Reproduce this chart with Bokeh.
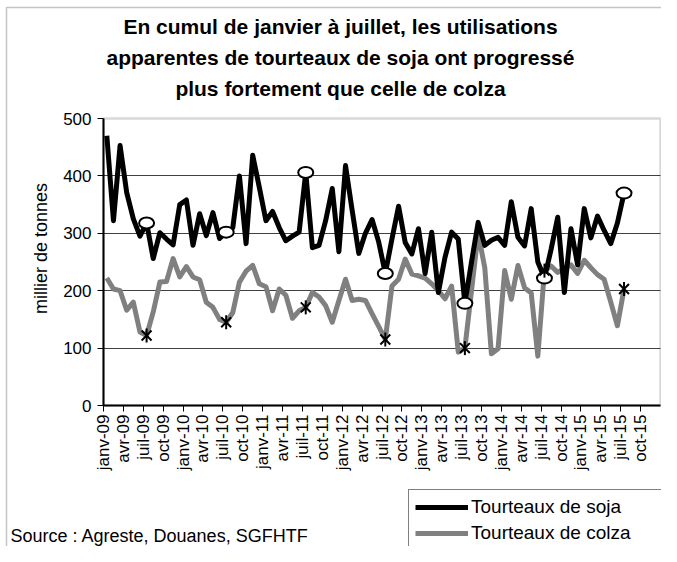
import math
from bokeh.plotting import figure
from bokeh.models import (FixedTicker, Label, Legend, LegendItem, ColumnDataSource,
                          Range1d, LinearAxis, Grid, BoxAnnotation)
from bokeh.embed import file_html
from bokeh.resources import INLINE

# ---------------- data ----------------
title_lines = [
    "En cumul de janvier à juillet, les utilisations",
    "apparentes de tourteaux de soja ont progressé",
    "plus fortement que celle de colza",
]
y_axis_title = "millier de tonnes"
source_text = "Source : Agreste, Douanes, SGFHTF"
series_names = ["Tourteaux de soja", "Tourteaux de colza"]

years = ["09", "10", "11", "12", "13", "14", "15"]
tick_months = ["janv", "avr", "juil", "oct"]
tick_labels = [f"{m}-{y}" for y in years for m in tick_months]  # janv-09 ... oct-15
n_slots = 84  # janv-09 .. déc-15 category slots
y_ticks = [0, 100, 200, 300, 400, 500]

# monthly values, janv-09 .. juil-15 (thousand tonnes)
soja = [470, 322, 453, 371, 325, 295, 318, 256, 301, 290, 280, 350,
        358, 279, 334, 296, 336, 291, 302, 310, 400, 282, 436, 380,
        322, 338, 310, 287, 295, 302, 406, 275, 279, 322, 378, 268,
        418, 340, 265, 300, 324, 285, 230, 290, 347, 284, 264, 308,
        230, 302, 197, 258, 302, 290, 178, 250, 319, 279, 288, 293,
        279, 355, 293, 278, 343, 250, 222, 272, 328, 197, 308, 245,
        343, 292, 330, 305, 282, 318, 370]
colza = [222, 203, 200, 166, 180, 128, 122, 163, 215, 216, 256, 224,
         242, 224, 219, 180, 171, 150, 145, 162, 215, 234, 244, 212,
         207, 165, 203, 192, 152, 165, 171, 197, 189, 174, 145, 183,
         220, 183, 185, 183, 160, 138, 115, 208, 220, 255, 229, 226,
         222, 212, 200, 186, 208, 93, 100, 200, 300, 240, 90, 99,
         235, 185, 244, 205, 196, 86, 235, 243, 232, 238, 245, 230,
         253, 240, 228, 220, 180, 139, 203]
july_index = [6, 18, 30, 42, 54, 66, 78]

# ---------------- layout (pixels) ----------------
W, H = 661, 546
PL, PR, PT, PB = 103, 660, 118, 405  # plot area in canvas pixels
y_max = y_ticks[-1]
sx = (PR - PL) / n_slots
sy = (PB - PT) / y_max
x_range = Range1d(-PL / sx, n_slots + (W - PR) / sx)
y_range = Range1d(-(H - PB) / sy, y_max + PT / sy)

p = figure(width=W, height=H, x_range=x_range, y_range=y_range,
           output_backend="svg", toolbar_location=None,
           x_axis_location=None, y_axis_location=None,
           min_border=0, min_border_left=0, min_border_right=0,
           min_border_top=0, min_border_bottom=0)
p.background_fill_color = "white"
p.border_fill_color = "white"
p.outline_line_color = None
p.grid.visible = False

# outer chart border (left / top visible), placed via the pixel layout
p.add_layout(BoxAnnotation(left=(6 - PL) / sx, right=n_slots + (W + 30 - PR) / sx,
                           top=y_max + (PT - 7) / sy, bottom=-(H + 30 - PB) / sy,
                           fill_alpha=0, line_color="#404040", line_width=1.5,
                           level="underlay"))
# plot-area border
p.add_layout(BoxAnnotation(left=0, right=n_slots, bottom=0, top=y_max,
                           fill_alpha=0, line_color="#808080", line_width=2.5,
                           level="underlay"))

# horizontal gridlines
p.add_layout(Grid(dimension=1, ticker=FixedTicker(ticks=y_ticks[1:-1]),
                  cross_bounds=(0, n_slots), grid_line_color="#404040",
                  grid_line_width=1, level="underlay"))

xs = [i + 0.5 for i in range(len(soja))]  # category centres
src = ColumnDataSource(dict(x=xs, soja=soja, colza=colza))
jsrc = ColumnDataSource(dict(x=[xs[i] for i in july_index],
                             soja=[soja[i] for i in july_index],
                             colza=[colza[i] for i in july_index]))

r_colza = p.line("x", "colza", source=src, line_color="#808080", line_width=5,
                 line_join="round")
r_soja = p.line("x", "soja", source=src, line_color="black", line_width=5,
                line_join="round")

# July markers
p.ellipse("x", "soja", source=jsrc, width=15, height=11, width_units="screen",
          height_units="screen", fill_color="white", line_color="black", line_width=2)
p.scatter("x", "colza", source=jsrc, marker="x", size=14, line_color="black",
          line_width=2)
p.scatter("x", "colza", source=jsrc, marker="dash", angle=math.pi / 2, size=14,
          line_color="black", line_width=2)

# axes at fixed locations
tick_pos = [3 * k for k in range(len(tick_labels))]
xaxis = LinearAxis(fixed_location=0, bounds=(0, n_slots),
                   ticker=FixedTicker(ticks=tick_pos),
                   major_label_overrides={t: lab for t, lab in zip(tick_pos, tick_labels)},
                   major_label_orientation=math.pi / 2,
                   major_label_text_font="Liberation Sans",
                   major_label_text_font_size="17px",
                   major_label_text_color="black", major_label_standoff=3,
                   major_tick_in=0, major_tick_out=6, minor_tick_line_color=None,
                   axis_line_width=2, axis_line_color="black",
                   major_tick_line_color="black")
p.add_layout(xaxis, "below")

yaxis = LinearAxis(fixed_location=0, bounds=(0, y_max),
                   ticker=FixedTicker(ticks=y_ticks),
                   major_label_text_font="Liberation Sans",
                   major_label_text_font_size="17px",
                   major_label_text_color="black", major_label_standoff=6,
                   major_tick_in=0, major_tick_out=6, minor_tick_line_color=None,
                   axis_line_width=2, axis_line_color="black",
                   major_tick_line_color="black")
p.add_layout(yaxis, "left")

# texts (screen units, origin at bottom-left of canvas)
for k, line in enumerate(title_lines):
    p.add_layout(Label(x=340, y=H - (26 + 31 * k), x_units="screen", y_units="screen",
                       text=line, text_font="Liberation Sans", text_font_size="21px",
                       text_font_style="bold", text_align="center",
                       text_baseline="middle", text_color="black"))

p.add_layout(Label(x=40, y=H - 248, x_units="screen", y_units="screen",
                   text=y_axis_title, angle=math.pi / 2, text_font="Liberation Sans",
                   text_font_size="18px", text_align="center", text_baseline="middle",
                   text_color="black"))

p.add_layout(Label(x=10, y=H - 535, x_units="screen", y_units="screen",
                   text=source_text, text_font="Liberation Sans", text_font_size="18px",
                   text_align="left", text_baseline="middle", text_color="black"))

legend = Legend(items=[LegendItem(label=series_names[0], renderers=[r_soja]),
                       LegendItem(label=series_names[1], renderers=[r_colza])],
                location=(408, H - 495 - 56), orientation="vertical",
                padding=6, spacing=4, margin=0,
                glyph_width=53, glyph_height=20, label_height=20,
                label_standoff=3, label_width=190,
                label_text_font="Liberation Sans", label_text_font_size="19px",
                label_text_color="black",
                border_line_color="black", border_line_width=1,
                background_fill_color="white", background_fill_alpha=1.0)
p.add_layout(legend)

open("out.html", "w").write(file_html(p, INLINE))
